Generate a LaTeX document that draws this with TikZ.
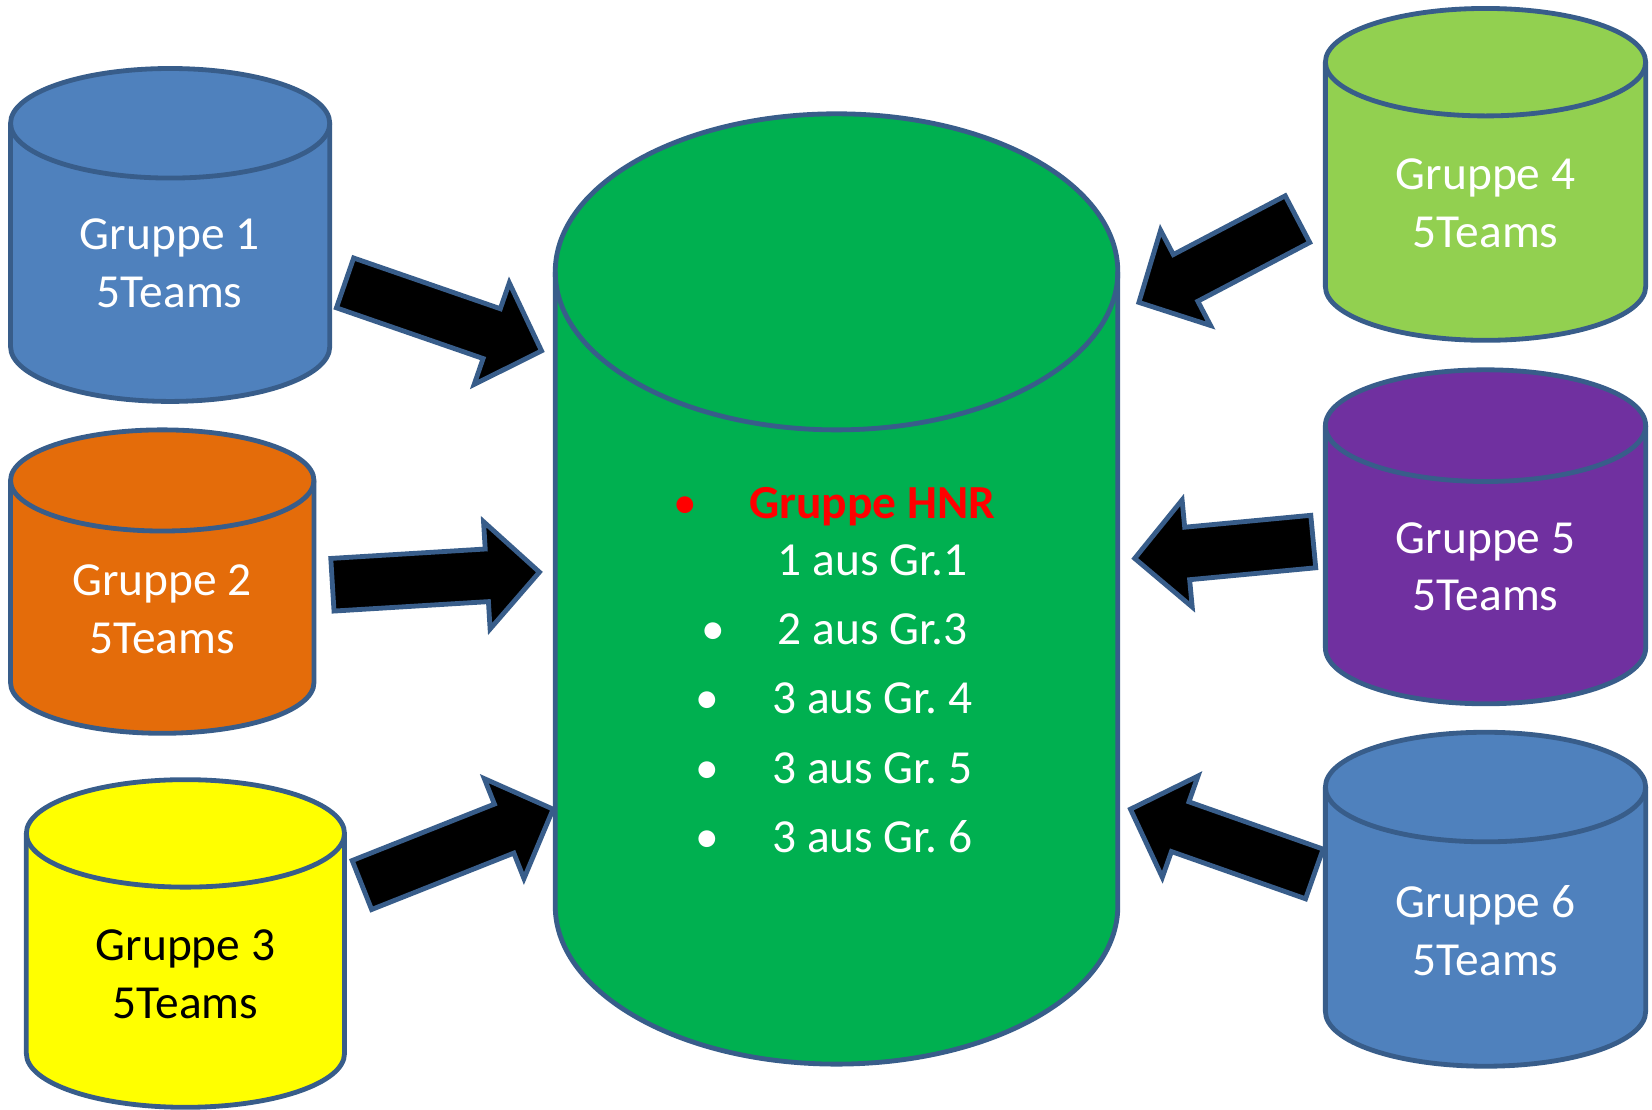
\documentclass[tikz,border=0pt]{standalone}
\usepackage{fontspec}
\setmainfont{Carlito}
\usepackage{xcolor}
\usetikzlibrary{calc}
\frenchspacing

\definecolor{grpblue}{HTML}{4F81BD}
\definecolor{grporange}{HTML}{E46C0A}
\definecolor{grpyellow}{HTML}{FFFF00}
\definecolor{grplime}{HTML}{92D050}
\definecolor{grppurple}{HTML}{7030A0}
\definecolor{hnrgreen}{HTML}{00B050}
\definecolor{hnrred}{HTML}{FF0000}
\definecolor{rim}{HTML}{385D8A}

\tikzset{
    % Cylinder body style
    tank/.style={
        draw=rim,
        fill=#1,
        line width=1.3pt
    },
    % Cylinder label style
    tank label/.style={
        align=center,
        font=\fontsize{12.8}{15.6}\selectfont,
        text=white,
        inner sep=0pt
    },
    % Block arrow style
    fat arrow/.style={
        draw=rim,
        fill=black,
        line width=1.3pt,
        line join=miter
    },
    % List style
    list text/.style={
        align=center,
        font=\fontsize{12.8}{15.3}\selectfont,
        text=white,
        inner sep=0pt
    }
}

% fill, centre x, x radius, top y, bottom y, y radius
\newcommand{\tankshape}[6]{%
    \path[tank=#1] (#2-#3,#4) -- (#2-#3,#5)
        arc[start angle=180, end angle=360, x radius=#3, y radius=#6]
        -- (#2+#3,#4)
        arc[start angle=0, end angle=180, x radius=#3, y radius=#6] -- cycle;
    \draw[rim, line width=1.3pt] (#2-#3,#4)
        arc[start angle=180, end angle=360, x radius=#3, y radius=#6];
}

% tail, tip
\newcommand{\blockarrow}[2]{%
    \coordinate (ba) at ($(#2)!0.5cm!(#1)$);
    \path[fat arrow] ($(#1)!0.25cm!90:(#2)$) -- ($(ba)!0.25cm!-90:(#1)$)
        -- ($(ba)!0.51cm!-90:(#1)$) -- (#2) -- ($(ba)!0.51cm!90:(#1)$)
        -- ($(ba)!0.25cm!90:(#1)$) -- ($(#1)!0.25cm!-90:(#2)$) -- cycle;
}

\begin{document}
\begin{tikzpicture}[x=0.01cm, y=0.01cm]

    \useasboundingbox (0,0) rectangle (1568,-1053);

    % Centre cylinder
    \tankshape{hnrgreen}{794}{267}{-258}{-860}{150}

    % Left cylinders
    \tankshape{grpblue}{161.5}{151.5}{-117}{-329}{52}
    \tankshape{grporange}{154}{144}{-456}{-648}{48}
    \tankshape{grpyellow}{176}{151}{-791}{-1000}{51}

    % Right cylinders
    \tankshape{grplime}{1410}{152}{-59}{-272}{51}
    \tankshape{grppurple}{1410}{152}{-404}{-615}{53}
    \tankshape{grpblue}{1410}{152}{-747}{-960}{52}

    % Labels
    \node[tank label] (g1) at (161,-250) {Gruppe 1\\5Teams};
    \node[tank label] (g2) at (154,-578) {Gruppe 2\\5Teams};
    \node[tank label, text=black] (g3) at (176,-925) {Gruppe 3\\5Teams};
    \node[tank label] (g4) at (1410,-193) {Gruppe 4\\5Teams};
    \node[tank label] (g5) at (1410,-538) {Gruppe 5\\5Teams};
    \node[tank label] (g6) at (1410,-883) {Gruppe 6\\5Teams};

    \node[list text] (hnr) at (828,-636) {%
        \llap{\textcolor{hnrred}{•}\hspace{0.5cm}}\textcolor{hnrred}{\bfseries Gruppe HNR}\\
        1 aus Gr.1\\[0.12cm]
        \llap{•\hspace{0.5cm}}2 aus Gr.3\\[0.12cm]
        \llap{•\hspace{0.5cm}}3 aus Gr. 4\\[0.12cm]
        \llap{•\hspace{0.5cm}}3 aus Gr. 5\\[0.12cm]
        \llap{•\hspace{0.5cm}}3 aus Gr. 6};

    % Arrow ends
    \coordinate (g1out) at (327.5,-268.5);
    \coordinate (g2out) at (315.5,-555);
    \coordinate (g3out) at (343.5,-840);
    \coordinate (g4out) at (1231.5,-208);
    \coordinate (g5out) at (1246.5,-514);
    \coordinate (g6out) at (1247.5,-829.5);
    \coordinate (hnrin1) at (514,-333);
    \coordinate (hnrin2) at (512,-543);
    \coordinate (hnrin3) at (525,-768);
    \coordinate (hnrin4) at (1081,-287);
    \coordinate (hnrin5) at (1077,-530);
    \coordinate (hnrin6) at (1073,-768);

    % Arrows
    \blockarrow{g1out}{hnrin1}
    \blockarrow{g2out}{hnrin2}
    \blockarrow{g3out}{hnrin3}
    \blockarrow{g4out}{hnrin4}
    \blockarrow{g5out}{hnrin5}
    \blockarrow{g6out}{hnrin6}

\end{tikzpicture}
\end{document}
